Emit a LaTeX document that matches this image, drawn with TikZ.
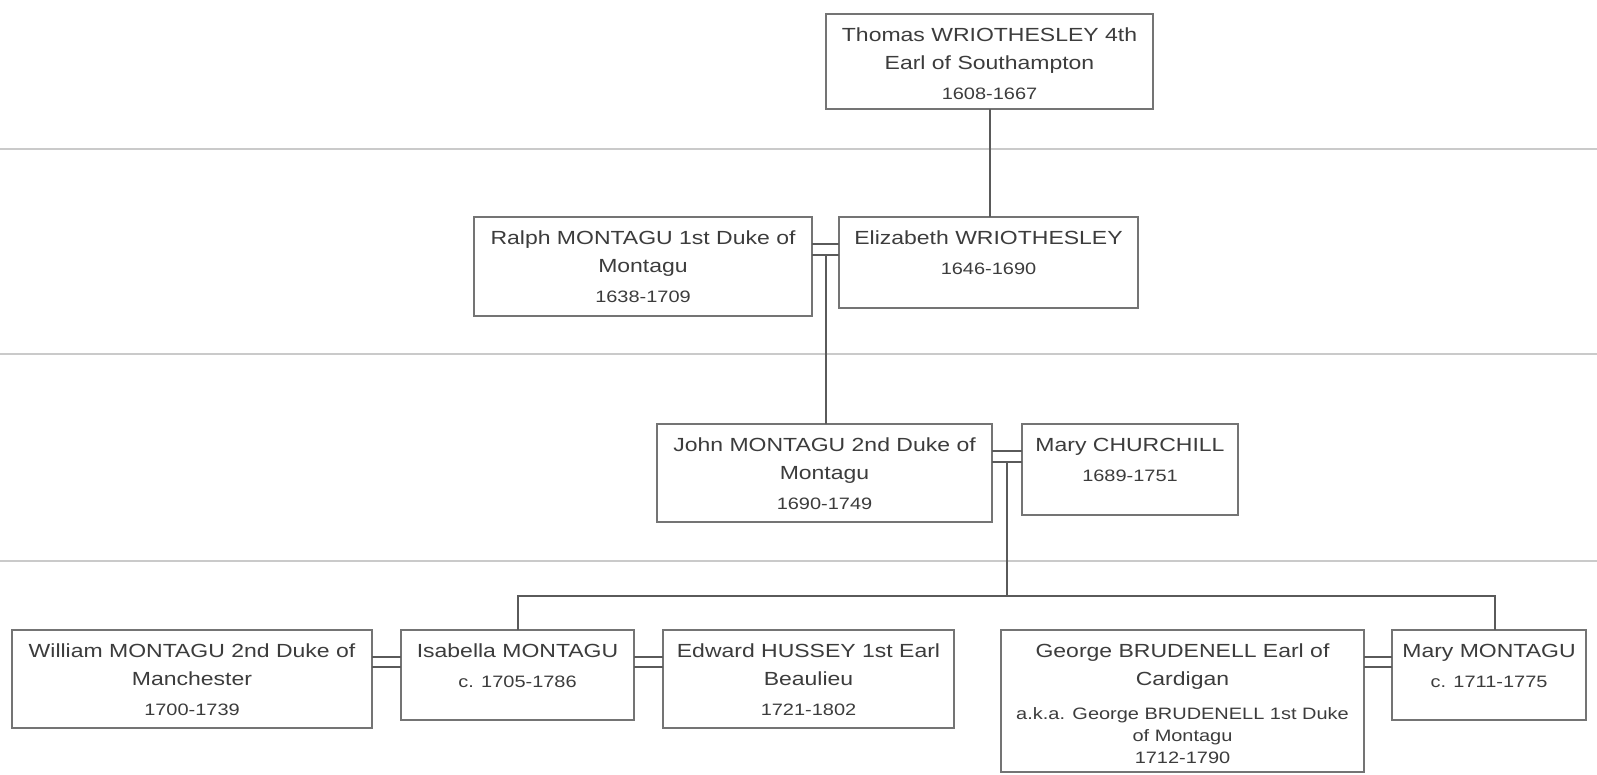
\documentclass[tikz,border=0pt]{standalone}
\usepackage{fontspec}
\setmainfont{Liberation Sans}[FakeStretch=1.21]
\usetikzlibrary{calc}
\definecolor{txtc}{HTML}{3C3C3C}
\definecolor{boxc}{HTML}{747474}
\definecolor{connc}{HTML}{5A5A5A}
\definecolor{rulec}{HTML}{CACACA}
\newcommand\nmsize{\fontsize{19}{28}\selectfont}
\newcommand\dtsize{\fontsize{16.5}{22}\selectfont}
\tikzset{
  pbox/.style={draw=boxc, line width=2pt, fill=white, inner sep=0pt, outer sep=0pt, anchor=north west},
  ptext/.style={text=txtc, align=center, inner sep=0pt, anchor=north, font=\nmsize},
  conn/.style={draw=connc, line width=2pt},
  hrule/.style={draw=rulec, line width=1.2pt}
}
% name, x, y, width, height, text
\newcommand\person[6]{%
  \node[pbox, minimum width=#4pt, minimum height=#5pt] (#1) at (#2,#3) {};
  \node[ptext, yshift=-12pt] (#1-t) at (#1.north) {\rule{0pt}{15pt}#6};
}
\begin{document}
\begin{tikzpicture}[x=1pt,y=-1pt]
\useasboundingbox[fill=white] (0,0) rectangle (1597,774);
% generation rules
\coordinate (r1a) at (0,149); \coordinate (r1b) at (1597,149);
\coordinate (r2a) at (0,354); \coordinate (r2b) at (1597,354);
\coordinate (r3a) at (0,561); \coordinate (r3b) at (1597,561);
\draw[hrule] (r1a) -- (r1b);
\draw[hrule] (r2a) -- (r2b);
\draw[hrule] (r3a) -- (r3b);

% persons
\person{thomas}{826}{14}{327}{95}{Thomas WRIOTHESLEY 4th\\Earl of Southampton\\[2pt]{\dtsize 1608-1667}}
\person{ralph}{474}{217}{338}{99}{Ralph MONTAGU 1st Duke of\\Montagu\\[2pt]{\dtsize 1638-1709}}
\person{eliz}{839}{217}{299}{91}{Elizabeth WRIOTHESLEY\\[2pt]{\dtsize 1646-1690}}
\person{john}{657}{424}{335}{98}{John MONTAGU 2nd Duke of\\Montagu\\[2pt]{\dtsize 1690-1749}}
\person{maryc}{1022}{424}{216}{91}{Mary CHURCHILL\\[2pt]{\dtsize 1689-1751}}
\person{william}{12}{630}{360}{98}{William MONTAGU 2nd Duke of\\Manchester\\[2pt]{\dtsize 1700-1739}}
\person{isabella}{401}{630}{233}{90}{Isabella MONTAGU\\[2pt]{\dtsize c. 1705-1786}}
\person{edward}{663}{630}{291}{98}{Edward HUSSEY 1st Earl\\Beaulieu\\[2pt]{\dtsize 1721-1802}}
\person{george}{1001}{630}{363}{142}{George BRUDENELL Earl of\\Cardigan\\[6pt]{\dtsize a.k.a. George BRUDENELL 1st Duke}\\[-6pt]{\dtsize of Montagu}\\[-6pt]{\dtsize 1712-1790}}
\person{marym}{1392}{630}{194}{90}{Mary MONTAGU\\[2pt]{\dtsize c. 1711-1775}}

% parent -> child
\draw[conn] (thomas.south) -- (thomas.south |- eliz.north);

% marriage 1
\draw[conn] ([yshift=-27pt]ralph.north east) -- ([yshift=-27pt]eliz.north west);
\draw[conn] ([yshift=-38pt]ralph.north east) -- ([yshift=-38pt]eliz.north west);
\coordinate (m1) at ($([yshift=-38pt]ralph.north east)!0.5!([yshift=-38pt]eliz.north west)$);
\draw[conn] (m1) -- (m1 |- john.north);

% marriage 2
\draw[conn] ([yshift=-27pt]john.north east) -- ([yshift=-27pt]maryc.north west);
\draw[conn] ([yshift=-38pt]john.north east) -- ([yshift=-38pt]maryc.north west);
\coordinate (m2) at ($([yshift=-38pt]john.north east)!0.5!([yshift=-38pt]maryc.north west)$);
\coordinate (barL) at (517.5,596);
\coordinate (barR) at (1495,596);
\draw[conn] (m2) -- (m2 |- barL);
\draw[conn] (isabella.north) -- (barL) -- (barR) -- (barR |- marym.north);

% bottom marriages
\draw[conn] ([yshift=-27pt]william.north east) -- ([yshift=-27pt]isabella.north west);
\draw[conn] ([yshift=-37pt]william.north east) -- ([yshift=-37pt]isabella.north west);
\draw[conn] ([yshift=-27pt]isabella.north east) -- ([yshift=-27pt]edward.north west);
\draw[conn] ([yshift=-37pt]isabella.north east) -- ([yshift=-37pt]edward.north west);
\draw[conn] ([yshift=-27pt]george.north east) -- ([yshift=-27pt]marym.north west);
\draw[conn] ([yshift=-37pt]george.north east) -- ([yshift=-37pt]marym.north west);
\end{tikzpicture}
\end{document}
